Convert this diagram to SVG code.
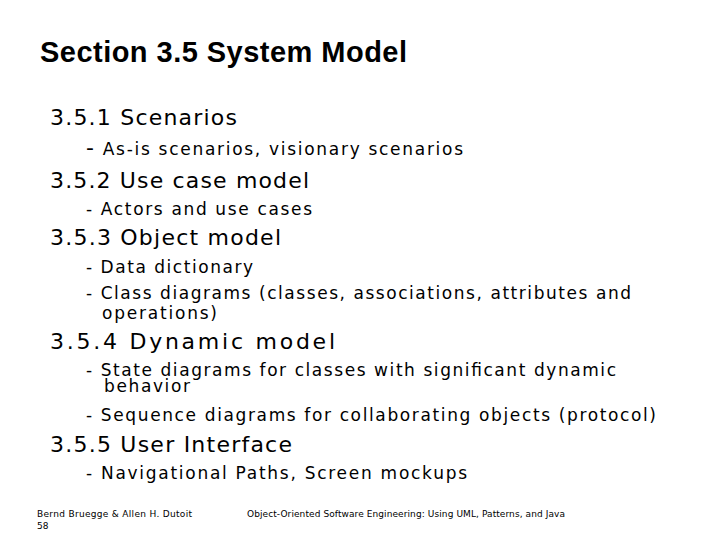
<svg xmlns="http://www.w3.org/2000/svg" width="720" height="540" viewBox="0 0 720 540">
<style>
.t{font-family:"Liberation Sans",Arial,sans-serif;font-weight:bold;font-size:29px;fill:#000}
.h{font-family:"DejaVu Sans",Verdana,sans-serif;font-size:22px;fill:#000}
.s{font-family:"DejaVu Sans",Verdana,sans-serif;font-size:17px;fill:#000}
.f{font-family:"DejaVu Sans",Verdana,sans-serif;font-size:9px;fill:#000}
</style>
<rect width="720" height="540" fill="#fff"/>
<text class="t" x="40" y="62" textLength="367">Section 3.5 System Model</text>
<text class="h" x="50" y="125" textLength="187">3.5.1 Scenarios</text>
<text class="s" x="86" y="155" textLength="377"><tspan font-size="22">-</tspan> As-is scenarios, visionary scenarios</text>
<text class="h" x="50" y="188" textLength="259">3.5.2 Use case model</text>
<text class="s" x="86" y="215" textLength="226">- Actors and use cases</text>
<text class="h" x="50" y="245" textLength="231">3.5.3 Object model</text>
<text class="s" x="86" y="273" textLength="167">- Data dictionary</text>
<text class="s" x="86" y="299" textLength="545">- Class diagrams (classes, associations, attributes and</text>
<text class="s" x="102" y="319" textLength="115">operations)</text>
<text class="h" x="50" y="349" textLength="285">3.5.4 Dynamic model</text>
<text class="s" x="86" y="376" textLength="530">- State diagrams for classes with significant dynamic</text>
<text class="s" x="104" y="392" textLength="86">behavior</text>
<text class="s" x="86" y="421" textLength="570">- Sequence diagrams for collaborating objects (protocol)</text>
<text class="h" x="50" y="452" textLength="242">3.5.5 User Interface</text>
<text class="s" x="86" y="479" textLength="381">- Navigational Paths, Screen mockups</text>
<text class="f" x="37" y="517" textLength="155">Bernd Bruegge &amp; Allen H. Dutoit</text>
<text class="f" x="37" y="529">58</text>
<text class="f" x="247" y="517" textLength="318">Object-Oriented Software Engineering: Using UML, Patterns, and Java</text>
</svg>
